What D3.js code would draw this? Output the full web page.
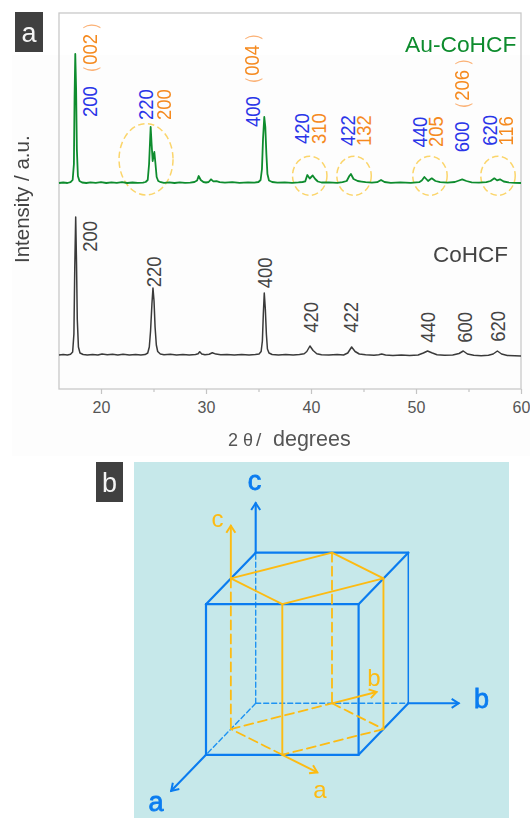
<!DOCTYPE html>
<html>
<head>
<meta charset="utf-8">
<script src="https://cdn.jsdelivr.net/npm/d3@7"></script>
<style>
  html, body { margin: 0; padding: 0; background: #fff; }
  svg { display: block; filter: blur(0.4px); }
  text { font-family: "Liberation Sans", Arial, sans-serif; }
  .x.axis path { display: none; }
  .x.axis line { stroke: #c4c4c4; stroke-width: 1.2; }
  .x.axis text { font-size: 16px; fill: #555; font-family: "Liberation Sans", Arial, sans-serif; }
</style>
</head>
<body>
<svg id="main-chart" width="530" height="818"></svg>
<script>
// Panel a: diffraction patterns
var auTheta = [16, 16.4, 16.8, 17.1, 17.3, 17.42, 17.48, 17.55, 17.63, 17.7, 17.8, 17.95, 18.2, 18.6, 19, 19.5, 20, 20.5, 21, 21.5, 22, 22.5, 23, 23.5, 24, 24.25, 24.45, 24.58, 24.68, 24.73, 24.82, 24.92, 25, 25.08, 25.18, 25.3, 25.45, 25.7, 26, 26.5, 27, 27.5, 28, 28.5, 28.9, 29.15, 29.3, 29.5, 29.75, 30, 30.25, 30.48, 30.7, 31, 31.3, 31.8, 32.5, 33.2, 34, 34.6, 35, 35.2, 35.33, 35.43, 35.55, 35.65, 35.75, 35.85, 36, 36.3, 36.8, 37.5, 38.2, 38.8, 39.2, 39.45, 39.65, 39.88, 40.16, 40.4, 40.65, 41, 41.7, 42.5, 43, 43.4, 43.65, 43.8, 44.05, 44.45, 44.8, 45.2, 45.8, 46.3, 46.67, 47, 47.6, 48.5, 49.5, 50.3, 50.55, 50.8, 51.15, 51.5, 51.85, 52.3, 53, 53.7, 54.1, 54.4, 54.8, 55.3, 56, 56.7, 57.1, 57.46, 57.72, 58, 58.35, 58.8, 59.4, 60];
var auIntensity = [206, 206.5, 206, 206.8, 209, 225, 290, 335, 300, 240, 213, 208, 206.5, 206, 206.7, 206.2, 206.8, 206, 206.6, 206.2, 206.8, 206, 206.5, 206.1, 206.3, 207, 209, 225, 250, 262, 245, 228, 233, 237, 226, 212, 208, 206.8, 206.2, 206.7, 206, 206.6, 206.2, 206.4, 207, 208.5, 213, 209, 207, 206.5, 207, 209.7, 207.6, 207.8, 206.8, 206.3, 206.8, 206.2, 206.6, 206.4, 207, 209, 220, 250, 272, 262, 235, 215, 208.5, 207, 206.3, 206.7, 206.2, 206.6, 207, 207.6, 214, 210.5, 213.5, 210, 207.5, 206.5, 206.7, 206.1, 206.8, 208, 213, 215, 210, 208, 207.4, 206.8, 206.3, 206.8, 209, 207, 206.2, 206.7, 206.2, 206.8, 208.5, 212, 208, 210.7, 208, 206.8, 206.3, 207, 208.5, 209.7, 208, 206.6, 206.3, 206.8, 208, 210.7, 208.6, 209.7, 207.5, 206.6, 206.2, 206];

var coTheta = [16, 16.4, 16.8, 17.1, 17.3, 17.42, 17.5, 17.59, 17.67, 17.74, 17.85, 18, 18.3, 18.7, 19.2, 19.7, 20.1, 20.6, 21.1, 21.6, 22.1, 22.7, 23.3, 23.8, 24.2, 24.45, 24.6, 24.72, 24.85, 24.95, 25.05, 25.15, 25.27, 25.4, 25.65, 26, 26.6, 27.2, 27.8, 28.4, 29, 29.25, 29.4, 29.6, 29.9, 30.3, 30.6, 30.95, 31.4, 32, 32.7, 33.4, 34.1, 34.7, 35.05, 35.25, 35.37, 35.46, 35.55, 35.65, 35.75, 35.85, 36, 36.3, 36.9, 37.6, 38.3, 38.9, 39.35, 39.6, 39.9, 40.2, 40.55, 41, 41.7, 42.5, 43.1, 43.5, 43.87, 44.2, 44.6, 45.2, 46, 46.45, 46.73, 47.1, 47.8, 48.6, 49.4, 50.2, 50.7, 51.1, 51.5, 52, 52.7, 53.5, 54.1, 54.5, 54.9, 55.5, 56.2, 56.9, 57.35, 57.75, 58.15, 58.7, 59.4, 60];
var coIntensity = [34, 34.5, 34, 34.8, 37, 55, 120, 172, 125, 70, 42, 36, 34.5, 34, 34.6, 34, 35, 34.2, 34.8, 34.1, 34.7, 34, 34.5, 34.1, 34.4, 36, 42, 58, 85, 101, 88, 62, 44, 37.5, 35, 34.3, 34.7, 34, 34.5, 34.1, 34.5, 35.2, 37.3, 35, 34.2, 34.8, 36.3, 34.9, 34.2, 34.6, 34, 34.5, 34.1, 34.4, 35, 37.5, 48, 75, 96, 80, 55, 40, 36, 34.5, 34, 34.4, 33.9, 34.4, 35.2, 37.5, 43, 38.5, 35.2, 34.2, 33.9, 34.4, 34, 36, 42, 37.5, 35, 34.2, 33.7, 34.3, 35, 34, 33.4, 33.9, 33.4, 34, 36, 38, 36.2, 34.3, 33.7, 34, 35.5, 38, 35, 33.7, 33.3, 33.8, 35, 38, 35, 33.6, 33.3, 33];

// Peak labels: text, then where each one starts (2 theta, intensity)
var cubicLabels = ["200", "220", "400", "420", "422", "440", "600", "620"];
var cubicTheta = [19.62, 24.92, 35.14, 39.84, 44.19, 51.08, 55.08, 57.69];
var cubicHeight = [272, 269, 262, 245, 243, 241.5, 236.7, 243.3];

var tetraLabels = ["（002）", "200", "（004）", "310", "132", "205", "（206）", "116"];
var tetraTheta = [19.62, 26.67, 35.08, 41.4, 45.69, 52.6, 55.08, 59.27];
var tetraHeight = [306, 269, 295, 245, 243, 242, 270, 243.3];

var plainLabels = ["200", "220", "400", "420", "422", "440", "600", "620"];
var plainTheta = [19.62, 25.69, 36.26, 40.7, 44.5, 51.81, 55.3, 58.48];
var plainHeight = [137.3, 101.7, 100.7, 56.3, 56.3, 46.3, 46.3, 47.3];

// Dashed rings around the split reflections
var ringTheta = [24.29, 39.88, 44.1, 51.33, 57.81];
var ringHeight = [229.7, 213.2, 213.2, 213.2, 213.2];
var ringHalfWidth = [2.57, 1.64, 1.64, 1.64, 1.64];
var ringHalfHeight = [35.7, 19.5, 19.5, 19.5, 19.5];

var majorTicks = [20, 30, 40, 50, 60];
var minorTicks = [25, 35, 45, 55];

// Panel b: everything in cell coordinates [a, b, c] of the cubic cell
var cubeSolid = [
  [[1, 0, 0], [1, 1, 0]], [[1, 1, 0], [1, 1, 1]], [[1, 1, 1], [1, 0, 1]], [[1, 0, 1], [1, 0, 0]],
  [[1, 0, 1], [0, 0, 1]], [[0, 0, 1], [0, 1, 1]], [[0, 1, 1], [1, 1, 1]],
  [[0, 1, 0], [1, 1, 0]]
];
var cubeThin = [[[0, 1, 1], [0, 1, 0]]];
var cubeDashed = [
  [[0, 0, 0], [0, 0, 1]], [[0, 0, 0], [0, 1, 0]], [[0, 0, 0], [1, 0, 0]]
];
var cubeAxes = [
  [[1, 0, 0], [1.7, 0, 0]], [[0, 1, 0], [0, 1.33, 0]], [[0, 0, 1], [0, 0, 1.33]]
];
var cellSolid = [
  [[0.5, 0, 1], [0, 0.5, 1]], [[0, 0.5, 1], [0.5, 1, 1]], [[0.5, 1, 1], [1, 0.5, 1]], [[1, 0.5, 1], [0.5, 0, 1]],
  [[0.5, 1, 1], [0.5, 1, 0]], [[1, 0.5, 1], [1, 0.5, 0]]
];
var cellDashed = [
  [[0.5, 0, 1], [0.5, 0, 0]], [[0, 0.5, 1], [0, 0.5, 0]],
  [[0.5, 0, 0], [0, 0.5, 0]], [[0, 0.5, 0], [0.5, 1, 0]], [[0.5, 1, 0], [1, 0.5, 0]], [[1, 0.5, 0], [0.5, 0, 0]]
];
var cellAxes = [
  [[1, 0.5, 0], [1.34, 0.84, 0]], [[0, 0.5, 0], [-0.22, 0.72, 0]], [[0.5, 0, 1], [0.5, 0, 1.35]]
];

var COLORS = {
  green: "#0e8c2e",
  ink: "#444",
  trace: "#3a3a3a",
  hklBlue: "#2a35e8",
  hklOrange: "#f58a1f",
  parens: "#fbb277",
  ring: "#fbd56b",
  cube: "#0a7cf0",
  cubeDash: "#1f93f2",
  cell: "#fdbb12",
  water: "#c6e8ea",
  frame: "#c9c9c9",
  badge: "#404040",
};

var svg = d3.select("#main-chart");

// Faint grey cast of the scanned panel
svg.append("rect").attr("x", 12).attr("y", 55).attr("width", 518).attr("height", 401).attr("fill", "#fdfdfd");

var margins = { top: 13, right: 9, bottom: 429, left: 59 };
var chartWidth = 530 - margins.left - margins.right;
var chartHeight = 818 - margins.top - margins.bottom;

var chartElement = svg
  .append("g")
  .attr("transform", `translate(${margins.left},${margins.top})`);

var xScale = d3.scaleLinear().domain([16, 60]).range([0, chartWidth]);
var yScale = d3.scaleLinear().domain([0, 376]).range([chartHeight, 0]);

// Frame
chartElement
  .append("rect")
  .attr("width", chartWidth)
  .attr("height", chartHeight)
  .attr("fill", "none")
  .attr("stroke", COLORS.frame)
  .attr("stroke-width", 1.3);

// Axis
var xAxis = d3.axisBottom(xScale).tickValues(majorTicks).tickSize(5).tickPadding(8).tickFormat(d3.format("d"));
var xMinor = d3.axisBottom(xScale).tickValues(minorTicks).tickSize(3).tickFormat("");

chartElement.append("g").attr("class", "x axis").attr("transform", `translate(0,${chartHeight})`).call(xAxis);
chartElement.append("g").attr("class", "x axis").attr("transform", `translate(0,${chartHeight})`).call(xMinor);

svg
  .append("text")
  .attr("transform", "translate(29,263) rotate(-90)")
  .attr("font-size", 20.5)
  .attr("fill", "#444")
  .text("Intensity / a.u.");

svg.append("text").attr("x", 228).attr("y", 446).attr("font-size", 18).attr("fill", "#555").attr("xml:space", "preserve").text("2 θ");
svg.append("text").attr("x", 256).attr("y", 446).attr("font-size", 19).attr("fill", "#555").text("/");
svg.append("text").attr("x", 273).attr("y", 446).attr("font-size", 21.5).attr("fill", "#555").text("degrees");

// Rings go under the traces
chartElement
  .append("g")
  .selectAll("ellipse")
  .data(ringTheta)
  .enter()
  .append("ellipse")
  .attr("cx", d => xScale(d))
  .attr("cy", (d, i) => yScale(ringHeight[i]))
  .attr("rx", (d, i) => xScale(16 + ringHalfWidth[i]))
  .attr("ry", (d, i) => yScale(376 - ringHalfHeight[i]))
  .attr("fill", "none")
  .attr("stroke", COLORS.ring)
  .attr("stroke-width", 1.5)
  .attr("stroke-dasharray", "6.5,3.5");

// Traces
var line = d3
  .line()
  .x(d => xScale(d[0]))
  .y(d => yScale(d[1]));

chartElement
  .append("path")
  .attr("d", line(d3.zip(coTheta, coIntensity)))
  .attr("fill", "none")
  .attr("stroke", COLORS.trace)
  .attr("stroke-width", 1.5)
  .attr("stroke-linejoin", "round");

chartElement
  .append("path")
  .attr("d", line(d3.zip(auTheta, auIntensity)))
  .attr("fill", "none")
  .attr("stroke", COLORS.green)
  .attr("stroke-width", 1.8)
  .attr("stroke-linejoin", "round");

// Rotated hkl labels, the full-width brackets are paler than their digits
function drawLabels(labels, theta, height, color) {
  chartElement
    .append("g")
    .selectAll("text")
    .data(labels)
    .enter()
    .append("text")
    .attr("transform", (d, i) => `translate(${xScale(theta[i])},${yScale(height[i])}) rotate(-90) scale(1,1.08)`)
    .attr("font-size", 18.5)
    .attr("font-family", d => (d.length > 3 ? '"Liberation Sans", "Noto Sans CJK SC"' : null))
    .attr("fill", color)
    .each(function (d) {
      if (d.length <= 3) {
        d3.select(this).text(d);
        return;
      }
      var label = d3.select(this);
      label.append("tspan").attr("fill", COLORS.parens).text(d[0]);
      label.append("tspan").text(d.slice(1, -1));
      label.append("tspan").attr("fill", COLORS.parens).attr("dx", 3).text(d[d.length - 1]);
    });
}

drawLabels(cubicLabels, cubicTheta, cubicHeight, COLORS.hklBlue);
drawLabels(tetraLabels, tetraTheta, tetraHeight, COLORS.hklOrange);
drawLabels(plainLabels, plainTheta, plainHeight, COLORS.ink);

svg.append("text").attr("x", 405).attr("y", 52).attr("font-size", 22.8).attr("fill", COLORS.green).text("Au-CoHCF");
svg.append("text").attr("x", 433).attr("y", 262).attr("font-size", 22.5).attr("fill", COLORS.ink).text("CoHCF");

// Panel badges
function drawBadge(x, y, w, h, letter) {
  svg.append("rect").attr("x", x).attr("y", y).attr("width", w).attr("height", h).attr("fill", COLORS.badge);
  svg
    .append("text")
    .attr("x", x + w / 2)
    .attr("y", y + h / 2 + 10)
    .attr("text-anchor", "middle")
    .attr("font-size", 27)
    .attr("fill", "#f4f4f4")
    .text(letter);
}

drawBadge(15, 12, 28, 40, "a");
drawBadge(96, 462, 27, 40, "b");

// Panel b background
svg.append("rect").attr("x", 134).attr("y", 462).attr("width", 375).attr("height", 356).attr("fill", COLORS.water);

// Oblique projection of the cell coordinates
var aX = d3.scaleLinear().domain([0, 1]).range([0, -49.7]);
var aY = d3.scaleLinear().domain([0, 1]).range([0, 51.5]);
var bX = d3.scaleLinear().domain([0, 1]).range([255.7, 408.3]);
var cY = d3.scaleLinear().domain([0, 1]).range([703.3, 552.7]);

var project = p => [bX(p[1]) + aX(p[0]), cY(p[2]) + aY(p[0])];

function arrowMarker(id, color) {
  svg
    .append("defs")
    .append("marker")
    .attr("id", id)
    .attr("markerUnits", "userSpaceOnUse")
    .attr("markerWidth", 14)
    .attr("markerHeight", 14)
    .attr("viewBox", "-11 -7 14 14")
    .attr("orient", "auto")
    .append("path")
    .attr("d", "M-7,-4.5 L0,0 L-7,4.5")
    .attr("fill", "none")
    .attr("stroke", color)
    .attr("stroke-width", 2);
}

arrowMarker("arrow-cube", COLORS.cube);
arrowMarker("arrow-cell", COLORS.cell);

function drawSegments(segments, color, width, dash, marker) {
  svg
    .append("g")
    .selectAll("line")
    .data(segments)
    .enter()
    .append("line")
    .attr("x1", d => project(d[0])[0])
    .attr("y1", d => project(d[0])[1])
    .attr("x2", d => project(d[1])[0])
    .attr("y2", d => project(d[1])[1])
    .attr("stroke", color)
    .attr("stroke-width", width)
    .attr("stroke-linecap", "round")
    .attr("stroke-dasharray", dash)
    .attr("marker-end", marker ? `url(#${marker})` : null);
}

drawSegments(cubeDashed, COLORS.cubeDash, 1.4, "5,3");
drawSegments(cubeThin, COLORS.cube, 1.5);
drawSegments(cubeSolid, COLORS.cube, 2.2);
drawSegments(cubeAxes, COLORS.cube, 2.1, null, "arrow-cube");
drawSegments(cellDashed, COLORS.cell, 1.8, "9,5");
drawSegments(cellSolid, COLORS.cell, 1.9);
drawSegments(cellAxes, COLORS.cell, 1.9, null, "arrow-cell");

// Axis letters
function drawLetter(x, y, letter, color, size, thicken) {
  svg
    .append("text")
    .attr("x", x)
    .attr("y", y)
    .attr("text-anchor", "middle")
    .attr("font-size", size)
    .attr("stroke", color)
    .attr("stroke-width", thicken)
    .attr("fill", color)
    .text(letter);
}

drawLetter(254.5, 490, "c", COLORS.cube, 27, 0.8);
drawLetter(481.5, 708, "b", COLORS.cube, 27, 0.8);
drawLetter(156, 811, "a", COLORS.cube, 27, 0.8);
drawLetter(217.5, 527, "c", COLORS.cell, 24, 0);
drawLetter(374, 686, "b", COLORS.cell, 24, 0);
drawLetter(320, 798, "a", COLORS.cell, 24, 0);
</script>
</body>
</html>
